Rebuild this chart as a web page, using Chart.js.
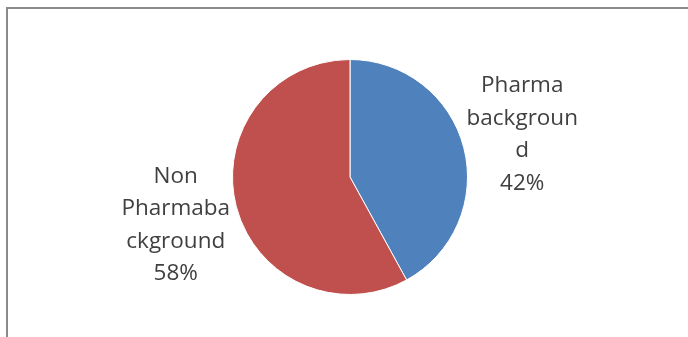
<!DOCTYPE html>
<html>
<head>
<meta charset="utf-8">
<script src="https://cdn.jsdelivr.net/npm/chart.js@4"></script>
<style>
    html, body { margin: 0; padding: 0; background: #ffffff; }
    .wrap { position: relative; width: 688px; height: 337px; overflow: hidden; }
    .frame {
        position: absolute; left: 6px; top: 7px; width: 700px; height: 400px;
        border-top: 2px solid #8a8a8a; border-left: 2px solid #8a8a8a;
    }
    canvas { position: absolute; left: 0; top: 0; }
</style>
</head>
<body>
<div class="wrap">
    <div class="frame"></div>
    <canvas id="backgroundChart" width="688" height="337"></canvas>
</div>
<script>
const categories = ['Pharma background', 'Non Pharmabackground'];
// label lines as wrapped in the chart box
const labelLines = [['Pharma', 'backgroun', 'd'], ['Non', 'Pharmaba', 'ckground']];
const shares = [42, 58];
const sliceColors = ['#4f81bd', '#c0504d'];
// label block centre, relative to the pie centre, in units of radius
const labelAnchors = [[1.466, -0.36], [-1.483, 0.41]];

const outsideLabels = {
    id: 'outsideLabels',
    afterDraw(chart) {
        const ctx = chart.ctx;
        const meta = chart.getDatasetMeta(0);
        const total = shares.reduce((a, b) => a + b, 0);
        const lineHeight = 32.5;
        ctx.save();
        ctx.font = '22.5px "Open Sans"';
        ctx.fillStyle = '#404040';
        ctx.textAlign = 'center';
        ctx.textBaseline = 'middle';
        meta.data.forEach((arc, i) => {
            const lines = labelLines[i].concat([Math.round(shares[i] / total * 100) + '%']);
            const cx = arc.x + labelAnchors[i][0] * arc.outerRadius;
            const cy = arc.y + labelAnchors[i][1] * arc.outerRadius;
            const top = cy - (lines.length - 1) * lineHeight / 2;
            lines.forEach((line, j) => ctx.fillText(line, cx, top + j * lineHeight));
        });
        ctx.restore();
    },
};

new Chart(document.getElementById('backgroundChart'), {
    type: 'pie',
    data: {
        labels: categories,
        datasets: [{
            data: shares,
            backgroundColor: sliceColors,
            borderColor: '#ffffff',
            borderWidth: 1,
        }],
    },
    options: {
        responsive: false,
        animation: false,
        layout: { padding: { top: 59, bottom: 42, left: 232, right: 220 } },
        plugins: {
            legend: { display: false },
            tooltip: { enabled: false },
        },
    },
    plugins: [outsideLabels],
});
</script>
</body>
</html>
